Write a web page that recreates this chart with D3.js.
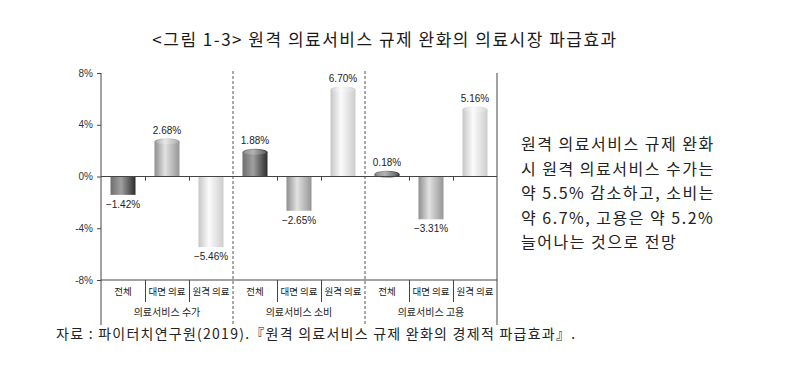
<!DOCTYPE html>
<html><head><meta charset="utf-8">
<script src="https://cdn.jsdelivr.net/npm/d3@7"></script>
<style>
body{margin:0;background:#fff;}
svg{display:block;}
</style></head>
<body>
<svg id="c" width="796" height="374"></svg>
<script>
const groups = ["의료서비스 수가", "의료서비스 소비", "의료서비스 고용"];
const categories = ["전체", "대면 의료", "원격 의료"];
const values = [
  [-1.42, 2.68, -5.46],
  [1.88, -2.65, 6.70],
  [0.18, -3.31, 5.16]
];
const yTicks = [8, 4, 0, -4, -8];
const title = "<그림 1-3> 원격 의료서비스 규제 완화의 의료시장 파급효과";
const note = ["원격 의료서비스 규제 완화", "시 원격 의료서비스 수가는", "약 5.5% 감소하고, 소비는", "약 6.7%, 고용은 약 5.2%", "늘어나는 것으로 전망"];
const source = "자료 : 파이터치연구원(2019).『원격 의료서비스 규제 완화의 경제적 파급효과』.";

const svg = d3.select("#c");
const sans = "'Liberation Sans', Arial, 'Noto Sans CJK KR', sans-serif";
const kr = "'Noto Sans CJK KR', sans-serif";

const pL = 101, pR = 497, pT = 73, pB = 280;
const y = d3.scaleLinear().domain([-8, 8]).range([pB, pT]);
const gx = d3.scaleBand().domain(groups).range([pL, pR]).padding(0);

const defs = svg.append("defs");
const shades = [
  ["#6e6e6e", "#a0a0a0", "#2c2c2c"],
  ["#8e8e8e", "#e2e2e2", "#959595"],
  ["#c6c6c6", "#fbfbfb", "#cdcdcd"]
];
shades.forEach((s, i) => {
  const g = defs.append("linearGradient").attr("id", "g" + i).attr("x1", "0").attr("x2", "1").attr("y1", "0").attr("y2", "0");
  g.append("stop").attr("offset", "0").attr("stop-color", s[0]);
  g.append("stop").attr("offset", "0.42").attr("stop-color", s[1]);
  g.append("stop").attr("offset", "1").attr("stop-color", s[2]);
});

svg.append("text").attr("x", 385).attr("y", 46).attr("text-anchor", "middle")
  .attr("font-family", kr).attr("font-size", 17).attr("letter-spacing", 1.5).attr("fill", "#1a1a1a").text(title);

const yAxis = svg.append("g").attr("transform", `translate(${pL},0)`)
  .call(d3.axisLeft(y).tickValues(yTicks).tickSize(4).tickFormat(d => d + "%"));
yAxis.select(".domain").remove();
yAxis.selectAll("line").attr("stroke", "#444");
yAxis.selectAll("text").attr("font-family", sans).attr("font-size", 10).attr("fill", "#333").attr("dx", "-1");

const axisCol = "#444";
svg.append("line").attr("x1", pL).attr("x2", pL).attr("y1", pT).attr("y2", 325).attr("stroke", axisCol);
svg.append("line").attr("x1", pR).attr("x2", pR).attr("y1", pT).attr("y2", 325).attr("stroke", axisCol);
svg.append("line").attr("x1", pL).attr("x2", pR).attr("y1", y(-8)).attr("y2", y(-8)).attr("stroke", axisCol);

groups.forEach((gname, gi) => {
  const gx0 = gx(gname);
  const g = svg.append("g").attr("transform", `translate(${gx0},0)`);
  if (gi > 0) {
    g.append("line").attr("x1", 0).attr("x2", 0).attr("y1", pT - 2).attr("y2", 325)
      .attr("stroke", "#555").attr("stroke-dasharray", "3,2");
  }
  const slot = gx.bandwidth() / 3;
  [1, 2].forEach(k => {
    const xx = Math.round(slot * k) + 0.5;
    g.append("line").attr("x1", xx).attr("x2", xx).attr("y1", y(0)).attr("y2", y(0) + 4).attr("stroke", axisCol);
    g.append("line").attr("x1", xx).attr("x2", xx).attr("y1", pB).attr("y2", 302).attr("stroke", axisCol);
  });
  categories.forEach((c, ci) => {
    g.append("text").attr("x", slot * (ci + 0.5)).attr("y", 295).attr("text-anchor", "middle")
      .attr("font-family", kr).attr("font-size", 9.5).attr("fill", "#222").text(c);
  });
  g.append("text").attr("x", gx.bandwidth() / 2).attr("y", 316).attr("text-anchor", "middle")
    .attr("font-family", kr).attr("font-size", 10).attr("fill", "#222").text(gname);

  values[gi].forEach((v, ci) => {
    const bw = 25;
    const bx = slot * (ci + 0.5) - bw / 2;
    const y0 = y(0), y1 = y(v);
    const capH = 3.5;
    if (v >= 0) {
      g.append("rect").attr("x", bx).attr("y", y1).attr("width", bw).attr("height", y0 - y1)
        .attr("fill", `url(#g${ci})`);
      g.append("ellipse").attr("cx", bx + bw / 2).attr("cy", y1).attr("rx", bw / 2).attr("ry", capH)
        .attr("fill", `url(#g${ci})`);
      g.append("ellipse").attr("cx", bx + bw / 2).attr("cy", y1).attr("rx", bw / 2 - 1).attr("ry", capH - 1)
        .attr("fill", "#fff").attr("opacity", 0.2);
      g.append("text").attr("x", bx + bw / 2).attr("y", y1 - 8).attr("text-anchor", "middle")
        .attr("font-family", sans).attr("font-size", 10).attr("fill", "#222").text(v.toFixed(2) + "%");
    } else {
      g.append("rect").attr("x", bx).attr("y", y0).attr("width", bw).attr("height", y1 - y0)
        .attr("fill", `url(#g${ci})`);
      g.append("text").attr("x", bx + bw / 2).attr("y", y1 + 13).attr("text-anchor", "middle")
        .attr("font-family", sans).attr("font-size", 10).attr("fill", "#222").text("−" + Math.abs(v).toFixed(2) + "%");
    }
  });
});
svg.append("line").attr("x1", pL).attr("x2", pR).attr("y1", y(0)).attr("y2", y(0)).attr("stroke", axisCol);

note.forEach((t, i) => {
  svg.append("text").attr("x", 521).attr("y", 150 + i * 24.5)
    .attr("font-family", kr).attr("font-size", 16).attr("letter-spacing", 1.5).attr("fill", "#222").text(t);
});

svg.append("text").attr("x", 56).attr("y", 339)
  .attr("font-family", kr).attr("font-size", 14).attr("letter-spacing", 1.25).attr("fill", "#222").text(source);
</script>
</body></html>
